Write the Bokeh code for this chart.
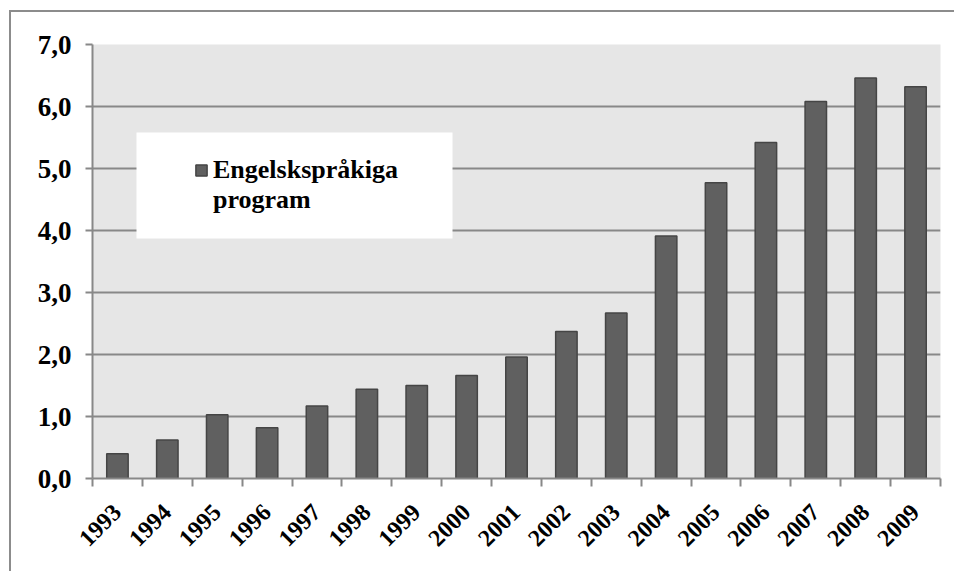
import math
from bokeh.plotting import figure
from bokeh.models import FixedTicker, Legend, LegendItem, Range1d, BoxAnnotation
from bokeh.embed import file_html
from bokeh.resources import INLINE

years = ["1993", "1994", "1995", "1996", "1997", "1998", "1999", "2000", "2001",
         "2002", "2003", "2004", "2005", "2006", "2007", "2008", "2009"]
values = [0.40, 0.62, 1.03, 0.82, 1.17, 1.44, 1.50, 1.66, 1.96,
          2.37, 2.67, 3.91, 4.77, 5.42, 6.08, 6.46, 6.32]
y_ticks = [0, 1, 2, 3, 4, 5, 6, 7]
y_tick_labels = ["0,0", "1,0", "2,0", "3,0", "4,0", "5,0", "6,0", "7,0"]
series_name = "Engelskspråkiga\nprogram"

n = len(years)
centers = [i + 0.5 for i in range(n)]
bounds = list(range(n + 1))

FONT = "Liberation Serif"
GRID = "#888888"

p = figure(width=945, height=561, x_range=Range1d(0, n), y_range=Range1d(0, 7),
           output_backend="svg", toolbar_location=None,
           min_border_left=81, min_border_right=16, min_border_top=32, min_border_bottom=95,
           background_fill_color="#e6e6e6", border_fill_color="white",
           styles={"border-left": "2px solid #8c8c8c", "border-top": "2px solid #8c8c8c",
                   "margin-left": "9px", "margin-top": "10px"})
p.outline_line_color = None

r = p.vbar(x=centers, top=values, width=0.43, bottom=0,
           fill_color="#606060", line_color="#454545", line_width=1.5)

# axes
p.xgrid.visible = False
p.ygrid.grid_line_color = GRID
p.ygrid.grid_line_width = 2
p.yaxis.ticker = FixedTicker(ticks=y_ticks)
p.yaxis.major_label_overrides = {t: l for t, l in zip(y_ticks, y_tick_labels)}
p.xaxis.ticker = FixedTicker(ticks=centers, minor_ticks=bounds)
p.xaxis.major_label_overrides = {c: y for c, y in zip(centers, years)}
p.xaxis.major_label_orientation = math.pi / 4

for ax in (p.xaxis, p.yaxis):
    ax.axis_line_color = GRID
    ax.axis_line_width = 2
    ax.major_label_text_font = FONT
    ax.major_label_text_font_style = "bold"
    ax.major_label_text_color = "black"

p.yaxis.major_tick_line_color = GRID
p.yaxis.major_tick_line_width = 2
p.yaxis.major_tick_out = 7
p.yaxis.major_tick_in = 0
p.yaxis.minor_tick_line_color = None
p.yaxis.major_label_text_font_size = "27px"
p.yaxis.major_label_standoff = 14

p.xaxis.major_tick_line_color = None
p.xaxis.minor_tick_line_color = GRID
p.xaxis.minor_tick_line_width = 2
p.xaxis.minor_tick_out = 8
p.xaxis.minor_tick_in = 0
p.xaxis.major_label_text_font_size = "24px"
p.xaxis.major_label_standoff = 22

# legend background box
box = BoxAnnotation(left=0.882, right=7.217, top=5.58, bottom=3.87,
                    fill_color="white", fill_alpha=1.0, line_color=None)
p.add_layout(box)

lines = series_name.split("\n")
items = [LegendItem(label=lines[0], renderers=[r])] + \
        [LegendItem(label=t, renderers=[]) for t in lines[1:]]
legend = Legend(items=items,
                location=(102, 263), padding=0, margin=0, spacing=0,
                border_line_alpha=0, background_fill_alpha=0,
                label_text_font=FONT, label_text_font_style="bold",
                label_text_font_size="26px", label_text_color="black",
                label_standoff=5,
                label_text_line_height=1.0, label_height=14,
                glyph_width=14, glyph_height=14)
p.add_layout(legend)

open("out.html", "w").write(file_html(p, INLINE))
